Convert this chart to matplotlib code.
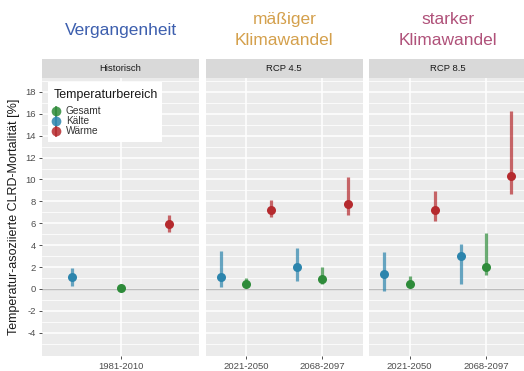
import matplotlib
matplotlib.use("Agg")
import matplotlib.pyplot as plt
from matplotlib.lines import Line2D
from matplotlib.patches import Rectangle
import numpy as np

plt.rcParams["font.family"] = ["Liberation Sans", "DejaVu Sans"]

# temperature ranges (legend order) and their colours
categories = ["Gesamt", "Kälte", "Wärme"]
colors = ["#2E8B3A", "#2C85AD", "#B52A2E"]
dodge = [0.0, -0.33, 0.33]

panel_titles = ["Historisch", "RCP 4.5", "RCP 8.5"]
periods = [["1981-2010"], ["2021-2050", "2068-2097"], ["2021-2050", "2068-2097"]]

# estimates and intervals, one row per period, columns = categories
hist_est = [[0.05, 1.1, 5.9]]
hist_lo = [[0.0, 0.3, 5.2]]
hist_hi = [[0.15, 1.95, 6.75]]

rcp45_est = [[0.5, 1.1, 7.2], [0.9, 2.0, 7.8]]
rcp45_lo = [[0.15, 0.2, 6.6], [0.45, 0.75, 6.8]]
rcp45_hi = [[1.0, 3.5, 8.1], [2.0, 3.7, 10.25]]

rcp85_est = [[0.5, 1.4, 7.2], [2.0, 3.0, 10.3]]
rcp85_lo = [[0.15, -0.15, 6.25], [1.3, 0.45, 8.7]]
rcp85_hi = [[1.2, 3.35, 8.95], [5.1, 4.15, 16.3]]

panels = [
    (hist_est, hist_lo, hist_hi),
    (rcp45_est, rcp45_lo, rcp45_hi),
    (rcp85_est, rcp85_lo, rcp85_hi),
]

headers = ["Vergangenheit", "mäßiger\nKlimawandel", "starker\nKlimawandel"]
header_colors = ["#3D5FAE", "#D4A04C", "#B0527A"]

W, H = 524, 371
fig = plt.figure(figsize=(W / 100, H / 100), dpi=100)


def fx(x):
    return x / W


def fy(y):
    return 1 - y / H


# panel boxes in pixels: (left, right)
panel_px = [(42, 199), (205.5, 363), (369, 526.5)]
top_px, bottom_px = 78, 356
strip_px = 19
ylim = (-6.12, 19.27)

axes = []
for i, ((x0, x1), (est, lo, hi)) in enumerate(zip(panel_px, panels)):
    ax = fig.add_axes([fx(x0), fy(bottom_px), (x1 - x0) / W, (bottom_px - top_px) / H])
    axes.append(ax)
    ax.set_facecolor("#EBEBEB")
    n = len(periods[i])
    pos = np.arange(1, n + 1)
    ax.set_xlim(0.47, n + 0.53)
    ax.set_ylim(*ylim)

    for y in range(-5, 20, 2):
        ax.axhline(y, color="white", lw=0.55, zorder=0)
    for y in range(-4, 19, 2):
        ax.axhline(y, color="white", lw=1.1, zorder=0)
    for x in pos:
        ax.axvline(x, color="white", lw=1.1, zorder=0)
    ax.axhline(0, color="#BDBDBD", lw=1.0, zorder=1)

    for j, p in enumerate(pos):
        for k, cat in enumerate(categories):
            xx = p + dodge[k]
            ax.plot([xx, xx], [lo[j][k], hi[j][k]], color=colors[k], lw=2.3,
                    alpha=0.7, solid_capstyle="butt", zorder=2)
            ax.plot(xx, est[j][k], "o", color=colors[k], ms=6.5, mew=0, zorder=3)

    ax.set_xticks(pos)
    ax.set_xticklabels(periods[i], fontsize=6.8, color="#4D4D4D")
    ax.set_yticks(range(-4, 19, 2))
    ax.tick_params(axis="both", length=2.5, width=0.6, color="#333333", pad=2)
    if i == 0:
        ax.set_yticklabels(range(-4, 19, 2), fontsize=6.8, color="#4D4D4D")
    else:
        ax.tick_params(axis="y", left=False, labelleft=False)
    for s in ax.spines.values():
        s.set_visible(False)

    # facet strip
    sax = fig.add_axes([fx(x0), fy(top_px), (x1 - x0) / W, strip_px / H])
    sax.set_facecolor("#D9D9D9")
    sax.set_xticks([])
    sax.set_yticks([])
    for s in sax.spines.values():
        s.set_visible(False)
    sax.text(0.5, 0.5, panel_titles[i], ha="center", va="center",
             fontsize=6.8, color="#1A1A1A", transform=sax.transAxes)

    cx = (x0 + x1) / 2
    fig.text(fx(cx), fy(30), headers[i], ha="center", va="center",
             fontsize=12.5, color=header_colors[i], linespacing=1.5)

fig.text(fx(14), fy(217), "Temperatur-asoziierte CLRD-Mortalität [%]",
         rotation=90, ha="center", va="center", fontsize=9, color="#1A1A1A")

# legend box drawn by hand inside the first panel
fig.add_artist(Rectangle((fx(48), fy(142)), 114 / W, 60 / H,
                         transform=fig.transFigure, facecolor="white",
                         edgecolor="none", zorder=5))
fig.text(fx(54), fy(95), "Temperaturbereich", ha="left", va="center",
         fontsize=9, color="#1A1A1A", zorder=6)
for k, cat in enumerate(categories):
    yk = 111 + 10 * k
    fig.add_artist(Line2D([fx(56), fx(56)], [fy(yk - 4.5), fy(yk + 4.5)],
                          transform=fig.transFigure, color=colors[k],
                          lw=1.2, zorder=7))
    fig.add_artist(Line2D([fx(56)], [fy(yk)], transform=fig.transFigure,
                          marker="o", ms=7.0, mew=0, color=colors[k],
                          alpha=0.85, zorder=6))
    fig.text(fx(66), fy(yk), cat, ha="left", va="center",
             fontsize=7.3, color="#333333", zorder=8)

fig.savefig("out.png", dpi=100)
